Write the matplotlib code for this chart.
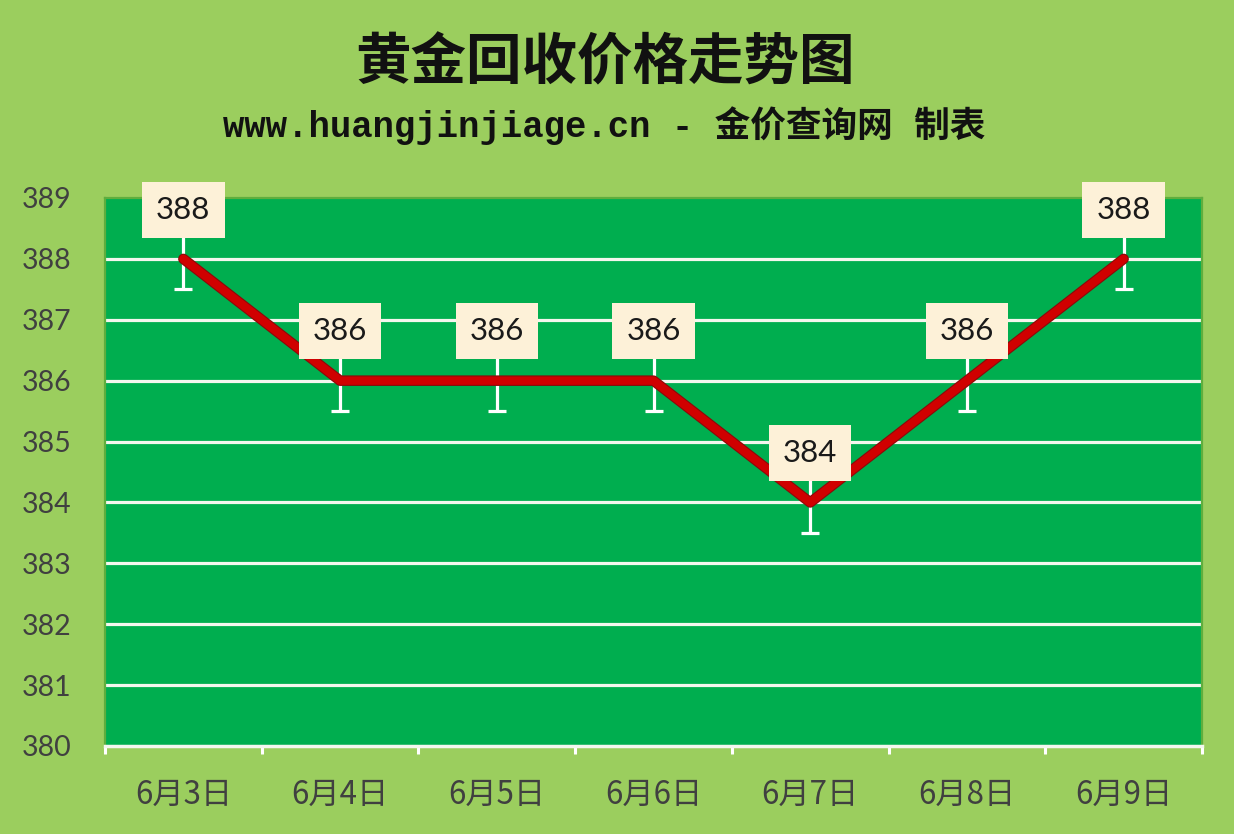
import matplotlib
matplotlib.use("Agg")
import matplotlib.pyplot as plt
import matplotlib.patheffects as pe
import numpy as np

# data
dates = ["6月3日", "6月4日", "6月5日", "6月6日", "6月7日", "6月8日", "6月9日"]
prices = [388, 386, 386, 386, 384, 386, 388]
err = 0.5
y_ticks = list(range(380, 390))

title = "黄金回收价格走势图"
subtitle = "www.huangjinjiage.cn - 金价查询网 制表"

bg = "#9BCE5E"
plot_bg = "#00AE4F"
tick_color = "#404040"
latin = ["Lato", "Noto Sans CJK SC", "DejaVu Sans"]
cjk = ["Noto Sans CJK SC", "DejaVu Sans"]

fig = plt.figure(figsize=(12.34, 8.34), dpi=100, facecolor=bg)
ax = fig.add_axes([105 / 1234, 1 - 746 / 834, 1097 / 1234, 548 / 834])
ax.set_facecolor(plot_bg)

x = np.arange(len(dates))

# white error bars sit under the line
ax.errorbar(x, prices, yerr=err, fmt="none", ecolor="white", elinewidth=2.3,
            capsize=6.8, capthick=2.3, zorder=3)

# thick red line with a darker rim
ax.plot(x, prices, color="#D00000", linewidth=6.0, solid_joinstyle="round",
        solid_capstyle="round", zorder=4,
        path_effects=[pe.Stroke(linewidth=7.6, foreground="#8A0A0A"), pe.Normal()])

# value labels in cream boxes above each point
for xi, p in zip(x, prices):
    ax.annotate(str(p), (xi, p), xytext=(0, 35.5), textcoords="offset points",
                ha="center", va="center", fontsize=22.5, family=latin, color="#1a1a1a",
                zorder=6,
                bbox=dict(boxstyle="square,pad=0.45", fc="#FDF1D8", ec="none"))

ax.set_xlim(-0.5, len(dates) - 0.5)
ax.set_ylim(380, 389)
ax.set_yticks(y_ticks)
ax.set_yticklabels([str(v) for v in y_ticks], fontsize=20.5, family=latin, color=tick_color)
ax.set_xticks(x)
ax.set_xticklabels(dates, fontsize=22.5, family=cjk, color=tick_color)
ax.set_xticks(np.arange(-0.5, len(dates)), minor=True)

ax.tick_params(axis="y", length=0, pad=24)
ax.tick_params(axis="x", which="major", length=0, pad=24)
ax.tick_params(axis="x", which="minor", length=6, width=2.2, color="white", direction="out")

ax.yaxis.grid(True, color="#F4F7EE", linewidth=2.3)
ax.set_axisbelow(True)
gl = ax.get_ygridlines()
gl[0].set_visible(False)
gl[-1].set_visible(False)

for side in ["top", "left", "right"]:
    ax.spines[side].set_color("#5FAE3E")
    ax.spines[side].set_linewidth(1.6)
ax.spines["bottom"].set_color("#F4F7EE")
ax.spines["bottom"].set_linewidth(2.5)

fig.text(0.49, 1 - 63 / 834, title, ha="center", va="center", fontsize=40,
         fontweight="bold", family=cjk, color="#111111")
fig.text(0.49, 1 - 126 / 834, subtitle, ha="center", va="center", fontsize=25.7,
         fontweight="bold", family=["Liberation Mono", "Noto Sans CJK SC"], color="#111111")

fig.savefig("out.png", dpi=100, facecolor=bg)
